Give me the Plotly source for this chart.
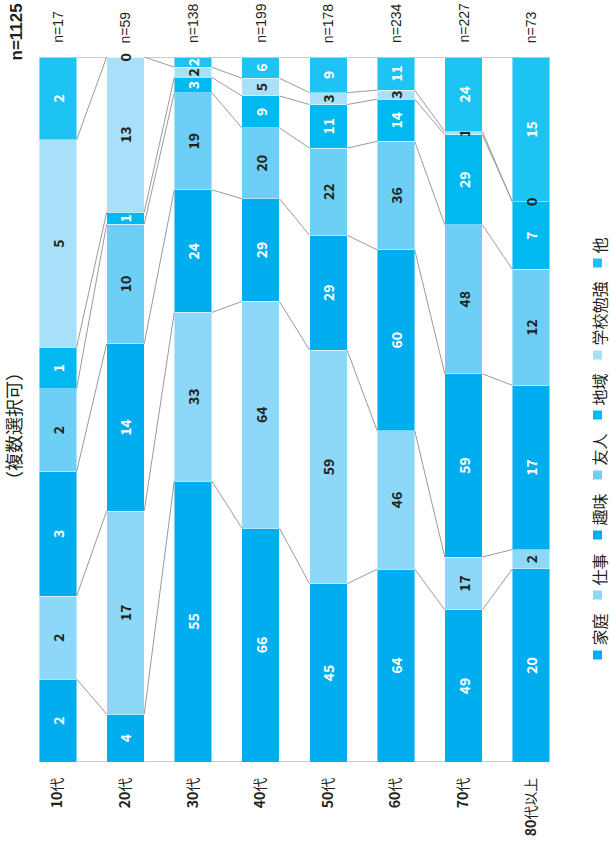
import re
import plotly.graph_objects as go

# ---------------- data ----------------
categories = ["10代", "20代", "30代", "40代", "50代", "60代", "70代", "80代以上"]
n_totals = [17, 59, 138, 199, 178, 234, 227, 73]
series_names = ["家庭", "仕事", "趣味", "友人", "地域", "学校勉強", "他"]
kazoku = [2, 4, 55, 66, 45, 64, 49, 20]
shigoto = [2, 17, 33, 64, 59, 46, 17, 2]
shumi = [3, 14, 24, 29, 29, 60, 59, 17]
yujin = [2, 10, 19, 20, 22, 36, 48, 12]
chiiki = [1, 1, 3, 9, 11, 14, 29, 7]
gakko = [5, 13, 2, 5, 3, 3, 1, 0]
hoka = [2, 0, 2, 6, 9, 11, 24, 15]
total_label = "n=1125"
title_text = "（複数選択可）"

series_values = [kazoku, shigoto, shumi, yujin, chiiki, gakko, hoka]

# ---------------- styles ----------------
colors = ["#00AEEF", "#8DD8F8", "#00AEEF", "#6DCFF6", "#00B9F1", "#A9E0F9", "#1CC3F3"]
text_colors = ["#FFFFFF", "#231F20", "#FFFFFF", "#231F20", "#FFFFFF", "#231F20", "#FFFFFF"]
DARK = "#231F20"
JP = "Noto Sans CJK JP"
W, H = 610, 857
PLOT_L, PLOT_R, PLOT_T, PLOT_B = 24, 565, 57, 762   # pixel coords of the plot area
ML, MT = PLOT_L, PLOT_T
plot_w = PLOT_R - PLOT_L
plot_h = PLOT_B - PLOT_T
MR = W - ML - plot_w
MB = H - MT - plot_h
bargap = 0.445
hw = (1 - bargap) / 2


def px_to_paper_x(px):
    return (px - PLOT_L) / plot_w


def px_to_paper_y(py):
    return (PLOT_B - py) / plot_h


xs = list(range(len(categories)))
pcts = [[v / n * 100 for v, n in zip(vals, n_totals)] for vals in series_values]

fig = go.Figure()

# connector lines between adjacent bars (cumulative boundaries)
cums = []
for i in xs:
    c = [0.0]
    for s in range(len(series_values)):
        c.append(c[-1] + pcts[s][i])
    cums.append(c)
lx, ly = [], []
for i in xs[:-1]:
    for k in range(len(series_values) + 1):
        lx += [i + hw, i + 1 - hw, None]
        ly += [cums[i][k], cums[i + 1][k], None]
fig.add_trace(go.Scatter(x=lx, y=ly, mode="lines",
                         line=dict(color="#9A9A9A", width=1),
                         hoverinfo="skip", showlegend=False))

annotations = []
for s, name in enumerate(series_names):
    vals = series_values[s]
    fig.add_trace(go.Bar(
        x=xs, y=pcts[s], name=name,
        marker=dict(color=colors[s], line=dict(color="rgba(255,255,255,0.45)", width=1)),
        text=[str(v) if v > 0 else "" for v in vals],
        texttemplate="<b>%{text}</b>",
        textposition="inside", insidetextanchor="middle",
        textangle=-90,
        textfont=dict(family=JP, size=14, color=text_colors[s]),
        showlegend=False, hoverinfo="skip",
    ))
    for i, v in enumerate(vals):
        if v == 0:
            annotations.append(dict(
                x=i, y=cums[i][s], xref="x", yref="y", text="<b>0</b>",
                showarrow=False, textangle=-90,
                font=dict(family=JP, size=14, color=DARK),
                xanchor="center", yanchor="middle"))

# n labels above bars
for i, n in enumerate(n_totals):
    annotations.append(dict(
        x=i, y=1, xref="x", yref="paper", yshift=12,
        text=f"n={n}", showarrow=False, textangle=-90,
        font=dict(family="Liberation Sans", size=14, color=DARK),
        xanchor="center", yanchor="bottom"))

# total n
annotations.append(dict(
    x=px_to_paper_x(16), y=px_to_paper_y(63), xref="paper", yref="paper",
    text=f"<b>{total_label}</b>", showarrow=False, textangle=-90,
    font=dict(family="Liberation Sans", size=17, color=DARK),
    xanchor="center", yanchor="bottom"))

# title
annotations.append(dict(
    x=px_to_paper_x(13), y=px_to_paper_y(426), xref="paper", yref="paper",
    text=title_text, showarrow=False, textangle=-90,
    font=dict(family=JP, size=18, color=DARK),
    xanchor="center", yanchor="middle"))

# legend (rotated)
shapes = []
y_sq = 655
for s, name in enumerate(series_names):
    shapes.append(dict(type="rect", xref="paper", yref="paper",
                       x0=px_to_paper_x(593), x1=px_to_paper_x(602),
                       y0=px_to_paper_y(y_sq + 4.5), y1=px_to_paper_y(y_sq - 4.5),
                       fillcolor=colors[s], line=dict(width=0)))
    annotations.append(dict(
        x=px_to_paper_x(598), y=px_to_paper_y(y_sq - 7.5), xref="paper", yref="paper",
        text=name, showarrow=False, textangle=-90,
        font=dict(family=JP, size=16, color=DARK),
        xanchor="center", yanchor="bottom"))
    y_sq = y_sq - 12 - 16 * len(name) - 16

tick_text = [re.sub(r"(\d+)", r"<b>\1</b>", c) for c in categories]

fig.update_layout(
    width=W, height=H,
    margin=dict(l=ML, r=MR, t=MT, b=MB),
    barmode="stack", bargap=bargap,
    plot_bgcolor="white", paper_bgcolor="white",
    uniformtext=dict(minsize=14, mode="show"),
    annotations=annotations, shapes=shapes,
    showlegend=False,
)
fig.update_xaxes(range=[-0.5, len(categories) - 0.5], tickvals=xs, ticktext=tick_text,
                 tickangle=-90, showgrid=False, zeroline=False, showline=False, ticks="",
                 automargin=False, ticklabelstandoff=12,
                 tickfont=dict(family=JP, size=14, color=DARK))
fig.update_yaxes(range=[0, 100], visible=False, showgrid=False, zeroline=False)

fig.write_html("out.html", config={"displayModeBar": False},
               post_script="document.body.style.margin='0';")
